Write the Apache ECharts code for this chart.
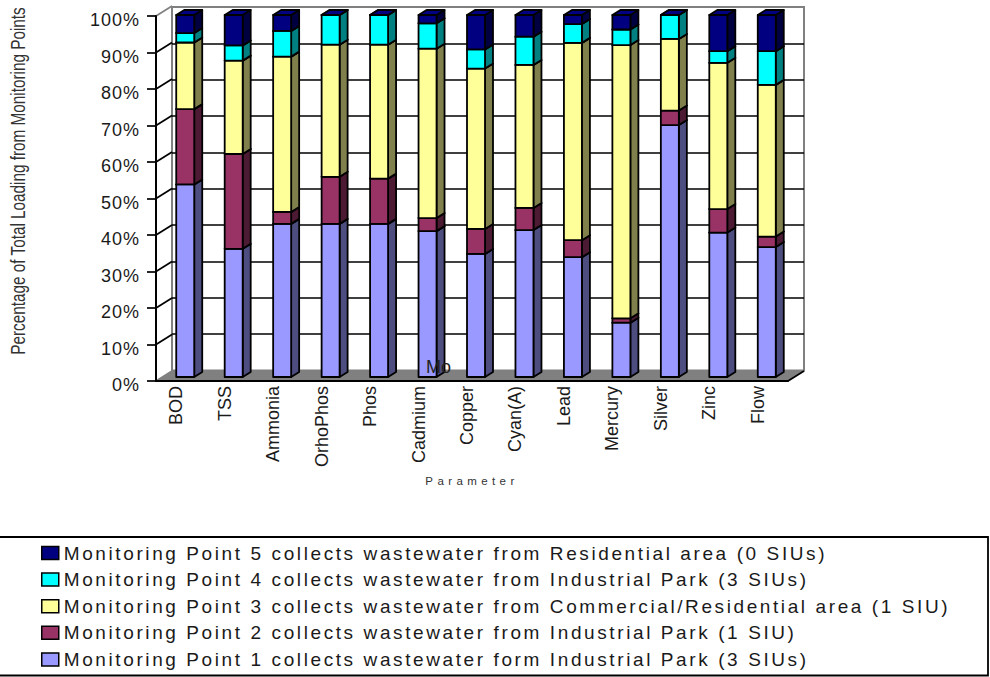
<!DOCTYPE html>
<html>
<head>
<meta charset="utf-8">
<title>Loading by monitoring point</title>
<script src="https://cdn.jsdelivr.net/npm/echarts@6/dist/echarts.min.js"></script>
<style>
html, body { margin: 0; padding: 0; background: #fff; }
#chart { width: 990px; height: 677px; }
/* zrender has no letter spacing option, the old chart has wide tracking */
text[style*="Arial"] { letter-spacing: 2.6px; }
text[style*="Helvetica"] { letter-spacing: 1px; }
text[style*="sans-serif"] { letter-spacing: 4.4px; }
</style>
</head>
<body>
<div id="chart"></div>
<script>
const categories = ['BOD', 'TSS', 'Ammonia', 'OrhoPhos', 'Phos', 'Cadmium', 'Copper', 'Cyan(A)', 'Lead', 'Mercury', 'Silver', 'Zinc', 'Flow'];

// share of the total per monitoring point, bottom of the stack first
const point1 = [53.2, 35.4, 42.3, 42.3, 42.3, 40.3, 34.0, 40.6, 33.1, 15.0, 69.6, 39.9, 35.9];
const point2 = [20.8, 26.2, 3.3, 13.0, 12.5, 3.6, 6.9, 6.1, 4.7, 1.2, 4.0, 6.5, 2.9];
const point3 = [18.4, 25.8, 42.9, 36.5, 37.0, 46.8, 44.3, 39.5, 54.5, 75.5, 19.8, 40.4, 41.9];
const point4 = [2.6, 4.2, 7.1, 8.2, 8.2, 7.0, 5.3, 7.8, 5.2, 4.3, 6.6, 3.2, 9.3];
const point5 = [5.0, 8.4, 4.4, 0, 0, 2.3, 9.5, 6.0, 2.5, 4.0, 0, 10.0, 10.0];

const pointNames = [
    'Monitoring Point 1 collects wastewater form Industrial Park (3 SIUs)',
    'Monitoring Point 2 collects wastewater from Industrial Park (1 SIU)',
    'Monitoring Point 3 collects wastewater from Commercial/Residential area (1 SIU)',
    'Monitoring Point 4 collects wastewater from Industrial Park (3 SIUs)',
    'Monitoring Point 5 collects wastewater from Residential area (0 SIUs)'
];
const pointValues = [point1, point2, point3, point4, point5];
const frontColors = ['#9999ff', '#993366', '#ffff99', '#00ffff', '#000080'];
const sideColors = ['#4d4d80', '#4d1a33', '#80804d', '#008080', '#000040'];
const wallTicks = [0, 10, 20, 30, 40, 50, 60, 70, 80, 90, 100];

const legendFont = 'Liberation Sans, Arial';
const axisFont = 'Liberation Sans, Helvetica';
const nameFont = 'Liberation Sans, sans-serif';

// depth of the fake 3D box and of one bar
const DEPTH_X = 16, DEPTH_Y = -10;
const BAR_W = 18, BAR_DX = 8, BAR_DY = -5;

const chart = echarts.init(document.getElementById('chart'), null, { renderer: 'svg' });

// running totals so each segment knows where it starts
const runningTotal = categories.map(() => 0);
const barSeries = pointValues.map((values, s) => {
    const rows = values.map((v, c) => {
        const row = [c, runningTotal[c], runningTotal[c] + v];
        runningTotal[c] += v;
        return row;
    });
    return {
        name: pointNames[s],
        type: 'custom',
        xAxisIndex: 2,
        yAxisIndex: 2,
        z: 5 + s,
        clip: false,
        itemStyle: { color: frontColors[s] },
        encode: { x: 0, y: [1, 2] },
        data: rows,
        renderItem: (params, api) => {
            const a = api.coord([api.value(0), api.value(1)]);
            const b = api.coord([api.value(0), api.value(2)]);
            const x0 = a[0] - BAR_W / 2, x1 = a[0] + BAR_W / 2;
            const line = { stroke: '#000', lineWidth: 1.8, lineJoin: 'round' };
            return {
                type: 'group',
                children: [
                    {
                        type: 'polygon',
                        shape: { points: [[x1, b[1]], [x1 + BAR_DX, b[1] + BAR_DY], [x1 + BAR_DX, a[1] + BAR_DY], [x1, a[1]]] },
                        style: Object.assign({ fill: sideColors[s] }, line)
                    },
                    {
                        type: 'polygon',
                        shape: { points: [[x0, b[1]], [x0 + BAR_DX, b[1] + BAR_DY], [x1 + BAR_DX, b[1] + BAR_DY], [x1, b[1]]] },
                        style: Object.assign({ fill: s === 4 || values[params.dataIndex] === 0 ? '#000080' : sideColors[s] }, line)
                    },
                    {
                        type: 'rect',
                        shape: { x: x0, y: b[1], width: BAR_W, height: a[1] - b[1] },
                        style: Object.assign({ fill: frontColors[s] }, line)
                    }
                ]
            };
        }
    };
});

// grey floor, drawn on the front grid and pushed back by the box depth
const floorSeries = {
    type: 'custom',
    xAxisIndex: 0,
    yAxisIndex: 0,
    z: 3,
    silent: true,
    clip: false,
    data: [[0, 0]],
    renderItem: (params, api) => {
        const band = api.size([1, 0])[0];
        const l = api.coord([0, 0]);
        const r = api.coord([categories.length - 1, 0]);
        const x0 = l[0] - band / 2, x1 = r[0] + band / 2, y = l[1];
        return {
            type: 'group',
            children: [
                {
                    type: 'polygon',
                    shape: { points: [[x0, y], [x1, y], [x1 + DEPTH_X, y + DEPTH_Y], [x0 + DEPTH_X, y + DEPTH_Y]] },
                    style: { fill: '#808080' }
                },
                {
                    type: 'line',
                    shape: { x1: x1, y1: y, x2: x1 + DEPTH_X, y2: y + DEPTH_Y },
                    style: { stroke: '#000', lineWidth: 1.7 }
                }
            ]
        };
    }
};

// slanted lines on the left wall, joining the ticks to the back gridlines
const wallSeries = {
    type: 'custom',
    xAxisIndex: 0,
    yAxisIndex: 0,
    z: 3,
    silent: true,
    clip: false,
    data: wallTicks.map(v => [0, v]),
    renderItem: (params, api) => {
        const band = api.size([1, 0])[0];
        const p = api.coord([0, api.value(1)]);
        const x = p[0] - band / 2;
        const edge = api.value(1) === 100 || api.value(1) === 0;
        return {
            type: 'line',
            shape: { x1: x, y1: p[1], x2: x + DEPTH_X, y2: p[1] + DEPTH_Y },
            style: { stroke: edge ? '#808080' : '#000', lineWidth: 1.7 }
        };
    }
};

chart.setOption({
    animation: false,
    backgroundColor: '#fff',
    grid: [
        { left: 156, top: 16, width: 632, height: 365 },
        { left: 172, top: 7, width: 632, height: 363.5, show: true, borderColor: '#808080', borderWidth: 2, backgroundColor: '#fff' },
        { left: 161, top: 15, width: 630, height: 362 },
        // only carries the tick labels, which sit a little left of and below the ticks
        { left: 152, top: 20, width: 630, height: 365 }
    ],
    xAxis: [
        {
            type: 'category',
            gridIndex: 0,
            data: categories,
            z: 8,
            name: 'Parameter',
            nameLocation: 'middle',
            nameGap: 94,
            nameTextStyle: { fontFamily: nameFont, fontSize: 11.5, color: '#333' },
            axisLine: { lineStyle: { color: '#000', width: 2 } },
            axisTick: { alignWithLabel: false, length: 6, lineStyle: { color: '#000', width: 1.7 } },
            axisLabel: { show: false }
        },
        { type: 'category', gridIndex: 1, data: categories, show: false },
        { type: 'category', gridIndex: 2, data: categories, show: false },
        {
            type: 'category',
            gridIndex: 3,
            data: categories,
            axisLine: { show: false },
            axisTick: { show: false },
            axisLabel: {
                rotate: 90,
                interval: 0,
                margin: 1,
                fontFamily: 'Liberation Sans',
                fontSize: 18,
                color: '#1a1a1a'
            }
        }
    ],
    yAxis: [
        {
            type: 'value',
            gridIndex: 0,
            min: 0,
            max: 100,
            interval: 10,
            z: 8,
            axisLine: { show: true, lineStyle: { color: '#000', width: 2 } },
            axisTick: { show: true, length: 9, lineStyle: { color: '#000', width: 1.7 } },
            splitLine: { show: false },
            axisLabel: { show: false }
        },
        {
            type: 'value',
            gridIndex: 1,
            min: 0,
            max: 100,
            interval: 10,
            axisLine: { show: false },
            axisTick: { show: false },
            axisLabel: { show: false },
            splitLine: { show: true, showMaxLine: false, showMinLine: false, lineStyle: { color: '#000', width: 1.7 } }
        },
        { type: 'value', gridIndex: 2, min: 0, max: 100, show: false, splitLine: { show: false } },
        {
            type: 'value',
            gridIndex: 3,
            min: 0,
            max: 100,
            interval: 10,
            axisLine: { show: false },
            axisTick: { show: false },
            splitLine: { show: false },
            axisLabel: {
                margin: 12,
                formatter: '{value}%',
                fontFamily: axisFont,
                fontSize: 18,
                color: '#1a1a1a'
            }
        }
    ],
    legend: {
        left: 36,
        top: 538,
        orient: 'vertical',
        selectedMode: false,
        icon: 'rect',
        itemWidth: 17,
        itemHeight: 13,
        itemGap: 6.6,
        itemStyle: { borderColor: '#000', borderWidth: 1.5 },
        textStyle: { fontFamily: legendFont, fontSize: 19, lineHeight: 20, color: '#1a1a1a' },
        data: pointNames.slice().reverse()
    },
    graphic: [
        {
            type: 'rect',
            z: 1,
            shape: { x: -5, y: 537, width: 993, height: 138.5 },
            style: { fill: 'none', stroke: '#000', lineWidth: 1.8 }
        },
        {
            type: 'text',
            z: 1,
            x: 18,
            y: 181,
            rotation: Math.PI / 2,
            scaleX: 0.765,
            style: {
                text: 'Percentage of Total Loading from Monitoring Points',
                fontFamily: 'Liberation Sans',
                fontSize: 20,
                fill: '#333',
                align: 'center',
                verticalAlign: 'middle'
            }
        },
        {
            type: 'text',
            z: 100,
            x: 426,
            y: 367,
            style: {
                text: 'Mo',
                fontFamily: 'Liberation Sans',
                fontSize: 18,
                fill: '#222',
                align: 'left',
                verticalAlign: 'middle'
            }
        }
    ],
    series: [floorSeries, wallSeries].concat(barSeries)
});
</script>
</body>
</html>
